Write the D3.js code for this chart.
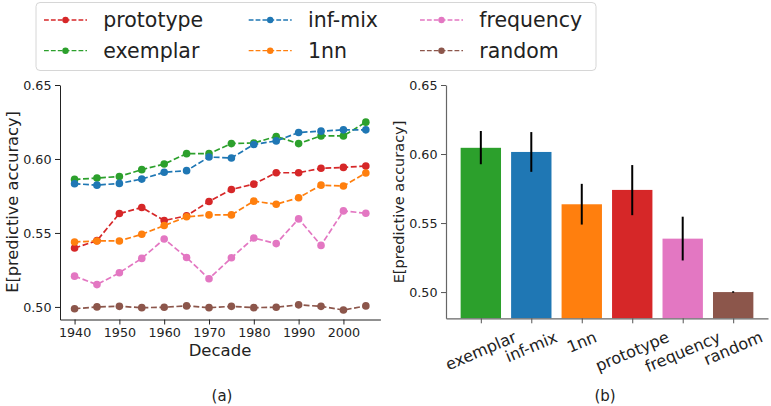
<!DOCTYPE html>
<html><head><meta charset="utf-8">
<script src="https://cdn.jsdelivr.net/npm/d3@7"></script>
<style>
body{margin:0;background:#fff;}
svg{display:block;font-family:"DejaVu Sans",sans-serif;}
</style></head>
<body><svg id="c" width="771" height="406"></svg>
<script>
// ---- data ----
const decades = [1940,1945,1950,1955,1960,1965,1970,1975,1980,1985,1990,1995,2000,2005];
const prototype = [0.5398,0.5448,0.5631,0.5672,0.5584,0.5616,0.5713,0.5794,0.5830,0.5907,0.5907,0.5937,0.5943,0.5952];
const exemplar  = [0.5862,0.5871,0.5882,0.5928,0.5966,0.6036,0.6036,0.6104,0.6108,0.6152,0.6104,0.6156,0.6156,0.6249];
const infmix    = [0.5833,0.5823,0.5835,0.5864,0.5910,0.5921,0.6013,0.6007,0.6098,0.6122,0.6179,0.6188,0.6197,0.6197];
const onenn     = [0.5439,0.5446,0.5446,0.5491,0.5550,0.5609,0.5622,0.5622,0.5715,0.5694,0.5738,0.5823,0.5817,0.5905];
const frequency = [0.5208,0.5151,0.5231,0.5328,0.5459,0.5334,0.5190,0.5332,0.5466,0.5428,0.5595,0.5416,0.5649,0.5633];
const random    = [0.4988,0.5000,0.5004,0.4995,0.4998,0.5007,0.4995,0.5004,0.4995,0.4998,0.5014,0.5004,0.4979,0.5007];

const seriesNames  = ["prototype","exemplar","inf-mix","1nn","frequency","random"];
const seriesColors = ["#d62728","#2ca02c","#1f77b4","#ff7f0e","#e377c2","#8c564b"];
const seriesValues = [prototype, exemplar, infmix, onenn, frequency, random];

const barNames  = ["exemplar","inf-mix","1nn","prototype","frequency","random"];
const barColors = ["#2ca02c","#1f77b4","#ff7f0e","#d62728","#e377c2","#8c564b"];
const barMeans  = [0.6045,0.6015,0.5636,0.5740,0.5387,0.5000];
const barLow    = [0.5926,0.5871,0.5489,0.5557,0.5229,0.4995];
const barHigh   = [0.6167,0.6159,0.5784,0.5920,0.5546,0.5006];

const yTicks = [0.50,0.55,0.60,0.65];
const xTicksA = [1940,1950,1960,1970,1980,1990,2000];

// ---- drawing ----
const svg = d3.select("#c");
const FONT = '"DejaVu Sans", sans-serif';

// Panel (a)
const xa = d3.scaleLinear().domain([1936.75, 2008.25]).range([60, 380.4]);
const ya = d3.scaleLinear().domain([0.4915, 0.65]).range([319.5, 85]);

const gA = svg.append("g");
const axA = gA.append("g").attr("transform","translate(60,0)")
  .call(d3.axisLeft(ya).tickValues(yTicks).tickFormat(d3.format(".2f")).tickSize(5).tickPadding(3.5).tickSizeOuter(0));
const axAx = gA.append("g").attr("transform","translate(0,319.5)")
  .call(d3.axisBottom(xa).tickValues(xTicksA).tickFormat(d3.format("d")).tickSize(5).tickPadding(3.5).tickSizeOuter(0));
[axA, axAx].forEach(a=>{
  a.selectAll("text").attr("font-size","12.7px").attr("font-family",FONT).attr("fill","#222");
  a.selectAll("line").attr("stroke","#222");
  a.select(".domain").attr("stroke","#222").attr("stroke-width",1);
});

seriesValues.forEach((vals,i)=>{
  const pts = decades.map((d,j)=>[d, vals[j]]);
  gA.append("path").datum(pts)
    .attr("fill","none").attr("stroke",seriesColors[i]).attr("stroke-width",1.7)
    .attr("stroke-dasharray","5.9,2.6")
    .attr("d", d3.line().x(p=>xa(p[0])).y(p=>ya(p[1])));
  gA.selectAll(null).data(pts).enter().append("circle")
    .attr("cx",p=>xa(p[0])).attr("cy",p=>ya(p[1])).attr("r",3.8)
    .attr("fill",seriesColors[i]);
});

gA.append("text").attr("x",220).attr("y",356).attr("text-anchor","middle")
  .attr("font-size","16.5px").attr("fill","#222").text("Decade");
gA.append("text").attr("transform","translate(17.5,202) rotate(-90)").attr("text-anchor","middle")
  .attr("font-size","16.2px").attr("fill","#222").text("E[predictive accuracy]");
gA.append("text").attr("x",222).attr("y",401).attr("text-anchor","middle")
  .attr("font-size","15px").attr("fill","#222").text("(a)");

// Panel (b)
const xb = d3.scaleLinear().domain([-0.69, 5.69]).range([446, 768]);
const yb = d3.scaleLinear().domain([0.481, 0.65]).range([318.3, 85]);
const gB = svg.append("g");
const bw = xb(0.4) - xb(-0.4);
gB.selectAll(null).data(barNames).enter().append("rect")
  .attr("x",(d,i)=>xb(i-0.4)).attr("width",bw)
  .attr("y",(d,i)=>yb(barMeans[i])).attr("height",(d,i)=>yb.range()[0]-yb(barMeans[i]))
  .attr("fill",(d,i)=>barColors[i]);
gB.selectAll(null).data(barNames).enter().append("line")
  .attr("x1",(d,i)=>xb(i)).attr("x2",(d,i)=>xb(i))
  .attr("y1",(d,i)=>yb(barLow[i])).attr("y2",(d,i)=>yb(barHigh[i]))
  .attr("stroke","#000").attr("stroke-width",2);

const axB = gB.append("g").attr("transform","translate(446,0)")
  .call(d3.axisLeft(yb).tickValues(yTicks).tickFormat(d3.format(".2f")).tickSize(5).tickPadding(3.5).tickSizeOuter(0));
const axBx = gB.append("g").attr("transform","translate(0,318.3)")
  .call(d3.axisBottom(xb).tickValues(d3.range(barNames.length)).tickFormat(()=> "").tickSize(5).tickSizeOuter(0));
[axB, axBx].forEach(a=>{
  a.selectAll("text").attr("font-size","12.7px").attr("font-family",FONT).attr("fill","#222");
  a.selectAll("line").attr("stroke","#555");
  a.select(".domain").attr("stroke","#666").attr("stroke-width",1.2);
});
// rotated category labels
const angDeg = 23, ang = angDeg*Math.PI/180, fs = 16;
barNames.forEach((n,i)=>{
  const t = gB.append("text").attr("font-size",fs+"px").attr("fill","#222")
    .attr("text-anchor","middle").attr("dominant-baseline","central").text(n);
  const w = t.node().getComputedTextLength();
  const h = fs*1.17;
  const bh = w*Math.sin(ang) + h*Math.cos(ang);
  t.attr("transform",`translate(${xb(i)},${327.5+bh/2}) rotate(${-angDeg})`);
});
gB.append("text").attr("transform","translate(404,202) rotate(-90)").attr("text-anchor","middle")
  .attr("font-size","14.5px").attr("fill","#222").text("E[predictive accuracy]");
gB.append("text").attr("x",605).attr("y",401).attr("text-anchor","middle")
  .attr("font-size","15px").attr("fill","#222").text("(b)");

// Legend
const lg = svg.append("g");
lg.append("rect").attr("x",36).attr("y",2.5).attr("width",560).attr("height",68).attr("rx",4)
  .attr("fill","#fff").attr("stroke","#d6d6d6").attr("stroke-width",1);
const colX = [44, 248.7, 420];
const rowY = [20, 50.7];
seriesNames.forEach((n,i)=>{
  const c = Math.floor(i/2), r = i%2;
  const x0 = colX[c], y0 = rowY[r];
  lg.append("line").attr("x1",x0).attr("x2",x0+43).attr("y1",y0).attr("y2",y0)
    .attr("stroke",seriesColors[i]).attr("stroke-width",1.3).attr("stroke-dasharray","4.8,2.1");
  lg.append("circle").attr("cx",x0+21.5).attr("cy",y0).attr("r",3.2).attr("fill",seriesColors[i]);
  lg.append("text").attr("x",x0+59.3).attr("y",y0).attr("dominant-baseline","central")
    .attr("font-size","20.5px").attr("fill","#222").text(n);
});
</script></body></html>
